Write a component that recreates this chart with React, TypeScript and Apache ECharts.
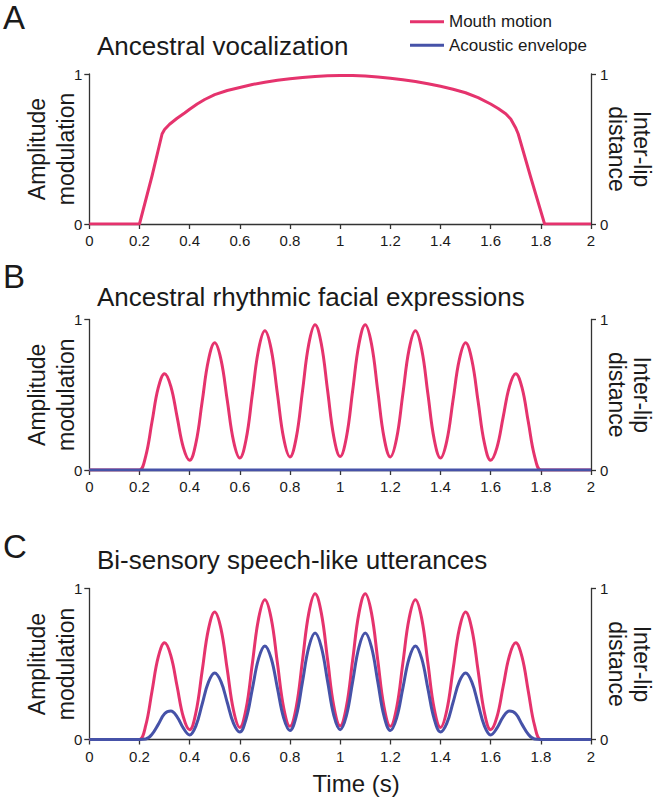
import React, { useEffect, useRef } from "react";
import * as echarts from "echarts";

// ---------- data ----------
const xTicks = [0, 0.2, 0.4, 0.6, 0.8, 1, 1.2, 1.4, 1.6, 1.8, 2];

// Panel A: ancestral vocalization (mouth motion)
const timeA = [0, 0.1, 0.2, 0.25, 0.29, 0.3, 0.32, 0.35, 0.38, 0.4, 0.43, 0.46, 0.5, 0.55, 0.6, 0.65, 0.7, 0.75, 0.8, 0.85, 0.9, 0.95, 1.0, 1.05, 1.1, 1.15, 1.2, 1.25, 1.3, 1.35, 1.4, 1.45, 1.5, 1.55, 1.6, 1.63, 1.66, 1.68, 1.7, 1.71, 1.76, 1.815, 1.9, 2];
const mouthA = [0, 0, 0, 0.32, 0.6, 0.63, 0.665, 0.705, 0.74, 0.765, 0.8, 0.83, 0.862, 0.89, 0.91, 0.93, 0.945, 0.958, 0.968, 0.977, 0.984, 0.988, 0.99, 0.99, 0.987, 0.98, 0.972, 0.962, 0.95, 0.935, 0.918, 0.898, 0.875, 0.843, 0.8, 0.77, 0.735, 0.7, 0.64, 0.6, 0.31, 0, 0, 0];

// Panels B & C: rhythmic signals
const timeBC = [0, 0.05, 0.1, 0.15, 0.175,
  0.2, 0.225, 0.25, 0.275, 0.3, 0.325, 0.35, 0.375,
  0.4, 0.425, 0.45, 0.475, 0.5, 0.525, 0.55, 0.575,
  0.6, 0.625, 0.65, 0.675, 0.7, 0.725, 0.75, 0.775,
  0.8, 0.825, 0.85, 0.875, 0.9, 0.925, 0.95, 0.975,
  1.0, 1.025, 1.05, 1.075, 1.1, 1.125, 1.15, 1.175,
  1.2, 1.225, 1.25, 1.275, 1.3, 1.325, 1.35, 1.375,
  1.4, 1.425, 1.45, 1.475, 1.5, 1.525, 1.55, 1.575,
  1.6, 1.625, 1.65, 1.675, 1.7, 1.725, 1.75, 1.775,
  1.8, 1.825, 1.85, 1.9, 1.95, 2];
const mouthRhythm = [0, 0, 0, 0, 0,
  0, 0.093, 0.32, 0.547, 0.64, 0.556, 0.353, 0.149,
  0.065, 0.179, 0.455, 0.731, 0.845, 0.733, 0.463, 0.192,
  0.08, 0.203, 0.503, 0.802, 0.925, 0.803, 0.506, 0.209,
  0.087, 0.215, 0.526, 0.837, 0.965, 0.837, 0.528, 0.218,
  0.09, 0.218, 0.528, 0.837, 0.965, 0.837, 0.526, 0.215,
  0.087, 0.209, 0.506, 0.803, 0.925, 0.802, 0.503, 0.203,
  0.08, 0.192, 0.463, 0.733, 0.845, 0.731, 0.455, 0.179,
  0.065, 0.149, 0.353, 0.556, 0.64, 0.547, 0.32, 0.093,
  0, 0, 0, 0, 0, 0];
const acousticC = [0, 0, 0, 0, 0,
  0, 0.003, 0.035, 0.1, 0.17, 0.188, 0.15, 0.075,
  0.03, 0.09, 0.235, 0.38, 0.44, 0.383, 0.245, 0.107,
  0.05, 0.135, 0.335, 0.537, 0.62, 0.538, 0.34, 0.142,
  0.06, 0.154, 0.383, 0.611, 0.705, 0.612, 0.385, 0.158,
  0.065, 0.158, 0.385, 0.612, 0.705, 0.611, 0.383, 0.154,
  0.06, 0.142, 0.34, 0.538, 0.62, 0.537, 0.335, 0.135,
  0.05, 0.107, 0.245, 0.383, 0.44, 0.38, 0.235, 0.09,
  0.03, 0.075, 0.15, 0.188, 0.17, 0.1, 0.035, 0.003,
  0, 0, 0, 0, 0, 0];
const timeFlat = [0, 2];
const acousticB = [0, 0];

const panelLetters = ["A", "B", "C"];
const panelTitles = [
  "Ancestral vocalization",
  "Ancestral rhythmic facial expressions",
  "Bi-sensory speech-like utterances",
];
const seriesNames = ["Mouth motion", "Acoustic envelope"];
const leftAxisName = "Amplitude\nmodulation";
const rightAxisName = "Inter-lip\ndistance";
const xAxisName = "Time (s)";

// ---------- styling ----------
const FONT = "'Liberation Sans', Arial, Helvetica, sans-serif";
const PINK = "#E5336D";
const BLUE = "#4652A8";
const AXIS = "#333333";
const TEXT = "#1a1a1a";

const gridTops = [74, 319.5, 588.5];
const gridHeights = [150, 150.5, 151];
const letterTops = [0.5, 259.5, 529.5];
const titleTops = [32.7, 284.4, 547];

const pairs = (xs: number[], ys: number[]) => xs.map((x, i) => [x, ys[i]]);

export default function App() {
  const ref = useRef<HTMLDivElement>(null);

  useEffect(() => {
    if (!ref.current) return;
    const chart = echarts.init(ref.current, null, { renderer: "svg" });

    const grids = gridTops.map((top, i) => ({
      left: 89.3,
      width: 501.7,
      top,
      height: gridHeights[i],
      containLabel: false,
      outerBoundsMode: "none",
    }));

    const xAxes = gridTops.map((_, i) => ({
      type: "value",
      gridIndex: i,
      min: 0,
      max: 2,
      interval: 0.2,
      axisLine: { show: true, onZero: false, lineStyle: { color: AXIS, width: 1.3 } },
      axisTick: { show: true, length: 5, inside: false, lineStyle: { color: AXIS, width: 1.3 } },
      axisLabel: {
        fontSize: 15,
        color: TEXT,
        fontFamily: FONT,
        margin: 9,
        formatter: (v: number) => String(Math.round(v * 10) / 10),
      },
      splitLine: { show: false },
      name: i === 2 ? xAxisName : "",
      nameLocation: "middle",
      nameGap: 32,
      nameMoveOverlap: false,
      nameTextStyle: {
        fontSize: 24,
        lineHeight: 24,
        color: TEXT,
        fontFamily: FONT,
        padding: [0, 0, 0, 32],
      },
    }));

    const yAxes: any[] = [];
    gridTops.forEach((_, i) => {
      const base = {
        type: "value",
        gridIndex: i,
        min: 0,
        max: 1,
        interval: 1,
        axisLine: { show: true, onZero: false, lineStyle: { color: AXIS, width: 1.3 } },
        axisTick: { show: true, length: 5, inside: false, lineStyle: { color: AXIS, width: 1.3 } },
        splitLine: { show: false },
        nameLocation: "middle",
        nameMoveOverlap: false,
      };
      yAxes.push({
        ...base,
        position: "left",
        axisLabel: { fontSize: 15, color: TEXT, fontFamily: FONT, margin: 7 },
        name: leftAxisName,
        nameRotate: 90,
        nameGap: 9,
        nameTextStyle: { fontSize: 23, lineHeight: 29, color: TEXT, fontFamily: FONT },
      });
      yAxes.push({
        ...base,
        position: "right",
        axisLabel: { fontSize: 15, color: TEXT, fontFamily: FONT, margin: 9 },
        name: rightAxisName,
        nameRotate: -90,
        nameGap: 13,
        nameTextStyle: { fontSize: 23, lineHeight: 25, color: TEXT, fontFamily: FONT },
      });
    });

    const lineBase = {
      type: "line",
      showSymbol: false,
      symbol: "none",
      silent: true,
      clip: true,
    };

    const series: any[] = [
      {
        ...lineBase,
        name: seriesNames[0],
        xAxisIndex: 0,
        yAxisIndex: 0,
        smooth: false,
        data: pairs(timeA, mouthA),
        lineStyle: { color: PINK, width: 3, join: "round" },
        itemStyle: { color: PINK },
        z: 3,
      },
      {
        ...lineBase,
        name: seriesNames[0],
        xAxisIndex: 1,
        yAxisIndex: 2,
        smooth: 0.4,
        data: pairs(timeBC, mouthRhythm),
        lineStyle: { color: PINK, width: 3 },
        itemStyle: { color: PINK },
        z: 3,
      },
      {
        ...lineBase,
        name: seriesNames[1],
        xAxisIndex: 1,
        yAxisIndex: 2,
        data: pairs(timeFlat, acousticB),
        lineStyle: { color: BLUE, width: 3 },
        itemStyle: { color: BLUE },
        z: 4,
      },
      {
        ...lineBase,
        name: seriesNames[0],
        xAxisIndex: 2,
        yAxisIndex: 4,
        smooth: 0.4,
        data: pairs(timeBC, mouthRhythm),
        lineStyle: { color: PINK, width: 3 },
        itemStyle: { color: PINK },
        z: 3,
      },
      {
        ...lineBase,
        name: seriesNames[1],
        xAxisIndex: 2,
        yAxisIndex: 4,
        smooth: 0.4,
        data: pairs(timeBC, acousticC),
        lineStyle: { color: BLUE, width: 3 },
        itemStyle: { color: BLUE },
        z: 4,
      },
    ];

    const titles: any[] = [];
    panelLetters.forEach((letter, i) => {
      titles.push({
        text: letter,
        left: 3,
        top: letterTops[i],
        padding: 0,
        textStyle: { fontSize: 33, lineHeight: 33, fontWeight: "normal", color: TEXT, fontFamily: FONT },
      });
      titles.push({
        text: panelTitles[i],
        left: 97,
        top: titleTops[i],
        padding: 0,
        textStyle: { fontSize: 26, lineHeight: 26, fontWeight: "normal", color: TEXT, fontFamily: FONT },
      });
    });

    chart.setOption({
      animation: false,
      backgroundColor: "#ffffff",
      title: titles,
      legend: {
        data: seriesNames,
        orient: "vertical",
        left: 410,
        top: 11.7,
        padding: 0,
        itemGap: 3.5,
        itemWidth: 34,
        itemHeight: 3,
        icon: "rect",
        selectedMode: false,
        textStyle: { fontSize: 17, lineHeight: 20, color: TEXT, fontFamily: FONT },
      },
      grid: grids,
      xAxis: xAxes,
      yAxis: yAxes,
      series,
    });

    return () => chart.dispose();
  }, []);

  return (
    <div
      ref={ref}
      style={{ position: "absolute", left: 0, top: 0, width: 664, height: 800 }}
    />
  );
}
